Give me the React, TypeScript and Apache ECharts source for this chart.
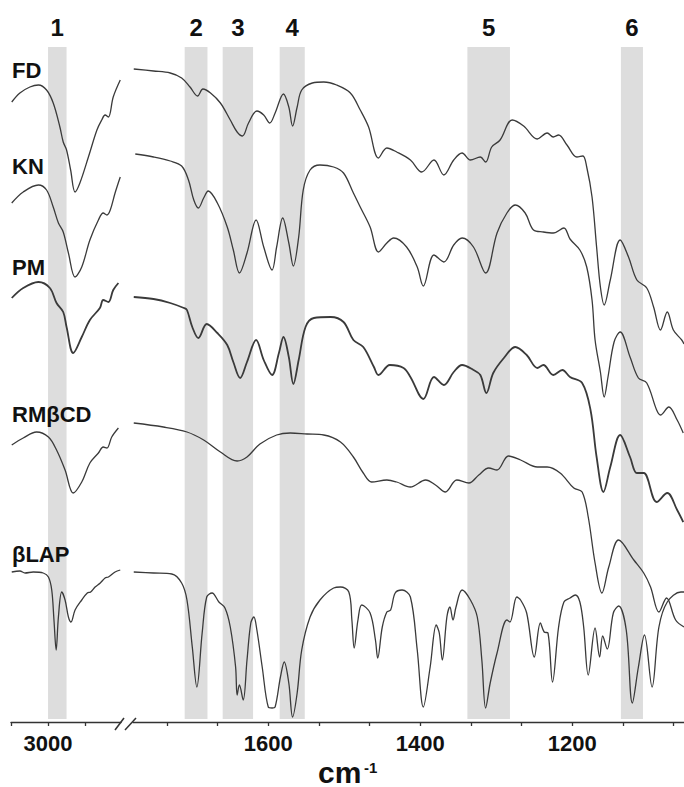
import React, { useEffect, useRef } from 'react';
import * as echarts from 'echarts';

// ---- axis ticks / labels (cm-1) ----
const LEFT_TICKS = [3100, 3000, 2900];
const LEFT_LABELS = [3000];
const RIGHT_TICKS = [1733.33, 1666.67, 1600, 1533.33, 1466.67, 1400, 1333.33, 1266.67, 1200, 1133.33, 1066.67];
const RIGHT_LABELS = [1600, 1400, 1200];

// ---- highlighted bands [from, to] ----
const BANDS_LEFT = [[2950, 3000]];
const BAND_NAMES_LEFT = ['1'];
const BANDS_RIGHT = [[1680, 1710], [1620, 1660], [1552, 1585], [1282, 1338], [1107, 1136]];
const BAND_NAMES_RIGHT = ['2', '3', '4', '5', '6'];

// ---- spectra (wavenumber, offset transmittance) ----
const SPECTRUM_NAMES = ['FD', 'KN', 'PM', 'RMβCD', 'βLAP'];

const FD_L = [[3098,620],[3076,629],[3049,635],[3026,637],[3004,632],[2986,619],[2968,595],[2959,580],[2950,572],[2939,552],[2927,530],[2914,539],[2891,565],[2868,592],[2855,602],[2846,607],[2837,605],[2824,625],[2805,642]];
const FD_R = [[1777,653],[1751,651],[1729,649],[1714,644],[1703,635],[1693,626],[1686,633],[1676,629],[1663,619],[1650,602],[1641,590],[1634,586],[1626,599],[1615,611],[1606,607],[1598,599],[1591,609],[1580,628],[1573,615],[1568,596],[1562,615],[1556,632],[1542,639],[1527,640],[1510,637],[1492,629],[1479,612],[1468,595],[1455,564],[1444,574],[1431,570],[1413,562],[1398,550],[1382,562],[1369,547],[1356,562],[1345,569],[1334,562],[1321,565],[1314,560],[1306,575],[1295,582],[1279,602],[1264,596],[1246,583],[1233,589],[1225,585],[1218,587],[1207,577],[1194,565],[1186,566],[1181,555],[1174,525],[1168,475],[1163,435],[1158,417],[1150,442],[1137,482],[1126,465],[1115,442],[1102,434],[1093,415],[1084,392],[1075,410],[1067,392],[1056,382],[1053,378]];

const KN_L = [[3098,519],[3067,530],[3026,537],[3004,532],[2986,515],[2972,499],[2959,490],[2945,469],[2927,445],[2909,455],[2887,482],[2864,502],[2851,509],[2841,507],[2832,512],[2819,529],[2805,545]];
const KN_R = [[1775,568],[1751,565],[1729,561],[1714,556],[1705,542],[1698,522],[1692,514],[1685,524],[1679,531],[1667,519],[1654,495],[1646,472],[1638,449],[1628,469],[1616,502],[1606,475],[1595,452],[1589,475],[1581,504],[1573,479],[1567,456],[1560,485],[1554,532],[1545,552],[1532,557],[1514,555],[1501,549],[1488,529],[1479,515],[1466,495],[1455,470],[1444,479],[1435,484],[1418,475],[1404,455],[1396,436],[1382,467],[1369,460],[1356,477],[1345,484],[1330,475],[1314,449],[1299,489],[1286,509],[1275,517],[1262,509],[1251,492],[1238,490],[1225,489],[1211,494],[1203,483],[1190,472],[1181,455],[1174,422],[1170,382],[1163,350],[1158,325],[1153,345],[1145,380],[1137,390],[1124,365],[1113,344],[1102,339],[1089,312],[1084,307],[1073,315],[1062,302],[1054,289]];

const PM_L = [[3098,424],[3067,434],[3026,440],[2995,434],[2977,419],[2959,410],[2950,395],[2932,369],[2909,385],[2887,402],[2860,414],[2851,422],[2837,420],[2824,432],[2810,439]];
const PM_R = [[1777,425],[1751,423],[1729,419],[1711,414],[1707,412],[1700,395],[1692,384],[1681,398],[1667,389],[1654,377],[1646,360],[1637,344],[1628,360],[1616,382],[1606,362],[1595,347],[1586,369],[1580,385],[1573,365],[1567,338],[1560,362],[1551,395],[1540,404],[1518,405],[1501,400],[1488,382],[1475,375],[1461,355],[1455,347],[1440,357],[1422,354],[1413,345],[1396,323],[1382,345],[1369,337],[1356,350],[1345,357],[1330,352],[1321,347],[1313,329],[1304,349],[1290,364],[1275,375],[1260,367],[1246,354],[1238,357],[1225,347],[1213,352],[1203,345],[1187,339],[1176,312],[1168,265],[1159,230],[1150,255],[1137,287],[1124,265],[1115,249],[1106,249],[1089,220],[1075,229],[1062,212],[1054,200]];

const RM_L = [[3098,277],[3067,284],[3031,290],[2999,285],[2977,272],[2954,252],[2932,229],[2909,240],[2887,259],[2864,269],[2851,275],[2841,274],[2828,285],[2810,294]];
const RM_R = [[1777,299],[1738,295],[1707,290],[1685,282],[1663,270],[1641,261],[1628,265],[1611,278],[1589,287],[1571,289],[1549,288],[1527,287],[1505,280],[1488,265],[1475,249],[1464,240],[1444,242],[1431,240],[1413,235],[1393,242],[1380,237],[1367,230],[1352,242],[1336,239],[1323,247],[1310,254],[1299,252],[1284,266],[1268,262],[1246,255],[1233,255],[1216,249],[1198,234],[1187,230],[1179,205],[1170,159],[1161,129],[1152,155],[1139,182],[1119,162],[1106,149],[1097,135],[1086,110],[1076,124],[1064,102],[1053,95]];

const BL_L = [[3098,150],[3076,151],[3062,149],[3040,150],[3013,149],[2999,145],[2990,132],[2984,102],[2978,72],[2972,105],[2963,130],[2954,122],[2945,105],[2938,100],[2927,112],[2909,122],[2894,129],[2885,130],[2873,135],[2859,139],[2846,144],[2837,145],[2819,150],[2805,152]];
const BL_R = [[1777,150],[1751,149],[1727,148],[1714,139],[1707,122],[1700,75],[1694,35],[1687,89],[1681,125],[1674,129],[1665,120],[1657,114],[1650,95],[1643,55],[1641,27],[1638,37],[1633,22],[1628,62],[1623,99],[1619,105],[1615,92],[1608,55],[1600,15],[1595,14],[1591,15],[1584,45],[1579,60],[1573,39],[1568,5],[1562,29],[1556,72],[1545,105],[1532,122],[1514,134],[1505,135],[1494,130],[1490,102],[1487,74],[1482,102],[1477,117],[1466,109],[1459,82],[1456,64],[1450,95],[1444,110],[1439,112],[1433,129],[1424,132],[1413,125],[1404,72],[1396,15],[1387,55],[1379,97],[1375,89],[1371,62],[1365,105],[1361,115],[1357,102],[1353,115],[1345,132],[1334,122],[1325,105],[1319,62],[1314,14],[1308,39],[1299,69],[1286,102],[1282,100],[1273,125],[1268,122],[1260,109],[1250,65],[1242,99],[1237,90],[1232,89],[1226,40],[1218,95],[1211,120],[1203,124],[1196,127],[1190,120],[1185,95],[1179,47],[1170,94],[1164,65],[1160,86],[1154,73],[1146,109],[1139,116],[1129,92],[1121,19],[1113,55],[1105,87],[1095,35],[1086,95],[1075,120],[1057,130],[1053,130]];

const SPECTRA_LEFT = [FD_L, KN_L, PM_L, RM_L, BL_L];
const SPECTRA_RIGHT = [FD_R, KN_R, PM_R, RM_R, BL_R];
const LABEL_Y = [71.5, 167.5, 268, 415.5, 555];

const FONT = '"Liberation Sans", Arial, Helvetica, sans-serif';
const LINE_COLOR = '#3a3a3a';
const BAND_COLOR = '#dddddd';
const Y_MAX = 722;
const BAND_BOTTOM = 3;
const BAND_TOP = 675;
const BAND_LABEL = 695;

function bandSeries(data: number[][], names: string[], idx: number) {
  return {
    type: 'custom',
    xAxisIndex: idx,
    yAxisIndex: idx,
    z: 1,
    clip: false,
    silent: true,
    data,
    renderItem: (params: any, api: any) => {
      const a = api.coord([api.value(0), BAND_BOTTOM]);
      const b = api.coord([api.value(1), BAND_TOP]);
      const c = api.coord([(api.value(0) + api.value(1)) / 2, BAND_LABEL]);
      return {
        type: 'group',
        children: [
          {
            type: 'rect',
            shape: { x: Math.min(a[0], b[0]), y: b[1], width: Math.abs(a[0] - b[0]), height: a[1] - b[1] },
            style: { fill: BAND_COLOR },
          },
          {
            type: 'text',
            style: {
              text: names[params.dataIndex],
              x: c[0],
              y: c[1],
              align: 'center',
              verticalAlign: 'middle',
              font: 'bold 24px ' + FONT,
              fill: '#111',
            },
          },
        ],
      };
    },
  };
}

export default function App() {
  const ref = useRef<HTMLDivElement>(null);
  useEffect(() => {
    document.body.style.margin = '0';
    const chart = echarts.init(ref.current!, null, { renderer: 'svg' });
    const axisCommon = {
      type: 'value',
      inverse: true,
      splitLine: { show: false },
      axisLine: { show: true, lineStyle: { color: '#333', width: 1.3 } },
      axisTick: { show: true, length: 4, lineStyle: { color: '#333', width: 1.3 } },
      axisLabel: {
        fontSize: 22, fontWeight: 'bold', color: '#111', fontFamily: FONT, margin: 10,
        formatter: (v: number) => String(Math.round(v)),
      },
    };
    const series: any[] = [bandSeries(BANDS_LEFT, BAND_NAMES_LEFT, 0), bandSeries(BANDS_RIGHT, BAND_NAMES_RIGHT, 1)];
    SPECTRUM_NAMES.forEach((name, i) => {
      [SPECTRA_LEFT[i], SPECTRA_RIGHT[i]].forEach((d, k) => {
        series.push({
          type: 'line',
          name,
          xAxisIndex: k,
          yAxisIndex: k,
          data: d,
          showSymbol: false,
          smooth: 0.35,
          z: 3,
          lineStyle: { color: LINE_COLOR, width: name === 'PM' ? 1.8 : 1.3 },
        });
      });
    });
    const graphics: any[] = SPECTRUM_NAMES.map((name, i) => ({
      type: 'text',
      left: 12,
      top: LABEL_Y[i] - 12,
      z: 10,
      style: { text: name, font: 'bold 22px ' + FONT, fill: '#111' },
    }));
    graphics.push(
      { type: 'line', z: 10, shape: { x1: 115, y1: 730, x2: 124, y2: 718 }, style: { stroke: '#333', lineWidth: 1.5 } },
      { type: 'line', z: 10, shape: { x1: 125, y1: 730, x2: 136, y2: 718 }, style: { stroke: '#333', lineWidth: 1.5 } },
      { type: 'text', z: 10, left: 318, top: 757, style: { text: 'cm', font: 'bold 30px ' + FONT, fill: '#111' } },
      { type: 'text', z: 10, left: 364, top: 760, style: { text: '-1', font: 'bold 15px ' + FONT, fill: '#111' } },
    );
    chart.setOption({
      animation: false,
      backgroundColor: '#fff',
      grid: [
        { left: 11, width: 110, top: 0, bottom: 65 },
        { left: 133, right: 0, top: 0, bottom: 65 },
      ],
      xAxis: [
        { ...axisCommon, gridIndex: 0, min: 2803, max: 3100,
          axisTick: { ...axisCommon.axisTick, customValues: LEFT_TICKS },
          axisLabel: { ...axisCommon.axisLabel, customValues: LEFT_LABELS } },
        { ...axisCommon, gridIndex: 1, min: 1053, max: 1778,
          axisTick: { ...axisCommon.axisTick, customValues: RIGHT_TICKS },
          axisLabel: { ...axisCommon.axisLabel, customValues: RIGHT_LABELS } },
      ],
      yAxis: [
        { type: 'value', gridIndex: 0, min: 0, max: Y_MAX, show: false },
        { type: 'value', gridIndex: 1, min: 0, max: Y_MAX, show: false },
      ],
      series,
      graphic: graphics,
    });
    return () => chart.dispose();
  }, []);
  return <div ref={ref} style={{ width: 684, height: 787 }} />;
}
